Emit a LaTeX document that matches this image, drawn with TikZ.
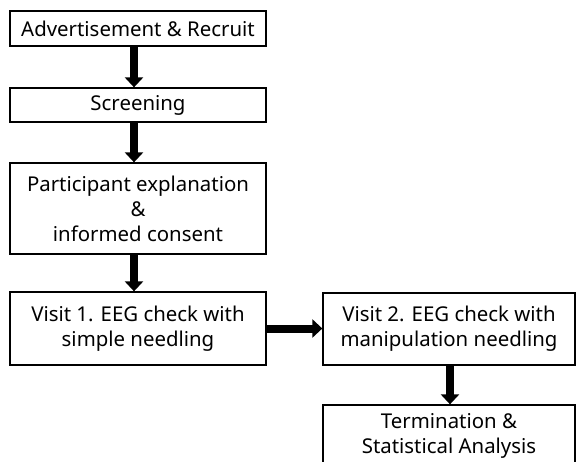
\documentclass[tikz,border=0pt]{standalone}
\usepackage{fontspec}
\setmainfont{Noto Sans}
\usetikzlibrary{arrows.meta}
\begin{document}
\begin{tikzpicture}[x=1pt,y=-1pt,
  stepbox/.style={draw=black, line width=1.3pt, rectangle, align=center,
    font=\fontsize{20.4}{25}\selectfont, inner sep=0pt, text=black},
  flow/.style={draw=black, line width=8pt,
    -{Triangle[length=10pt,width=18pt]}, shorten >=0pt}]
  \useasboundingbox[clip] (0,0) rectangle (576,461);
  \fill[white] (0,0) rectangle (576,461);

  \node[stepbox, minimum width=256pt, minimum height=35pt] (b1) at (138,28.5)
    {Advertisement \& Recruit};
  \node[stepbox, minimum width=256pt, minimum height=34pt] (b2) at (138,105)
    {Screening};
  \node[stepbox, minimum width=256pt, minimum height=91pt] (b3) at (138,208.5)
    {Participant explanation\\\&\\informed consent};
  \node[stepbox, minimum width=256pt, minimum height=73pt] (b4) at (138,328.5)
    {Visit 1. EEG check with\\simple needling};
  \node[stepbox, minimum width=252pt, minimum height=72pt] (b5) at (449,329)
    {Visit 2. EEG check with\\manipulation needling};
  \node[stepbox, minimum width=252pt, minimum height=62pt] (b6) at (449,436)
    {Termination \&\\Statistical Analysis};

  \draw[flow] ([xshift=-4pt]b1.south) -- ([xshift=-4pt]b2.north);
  \draw[flow] ([xshift=-4pt]b2.south) -- ([xshift=-4pt]b3.north);
  \draw[flow] ([xshift=-4pt]b3.south) -- ([xshift=-4pt]b4.north);
  \draw[flow] (b4.east) -- (b5.west |- b4.east);
  \draw[flow] ([xshift=1pt]b5.south) -- ([xshift=1pt]b6.north);
\end{tikzpicture}
\end{document}
